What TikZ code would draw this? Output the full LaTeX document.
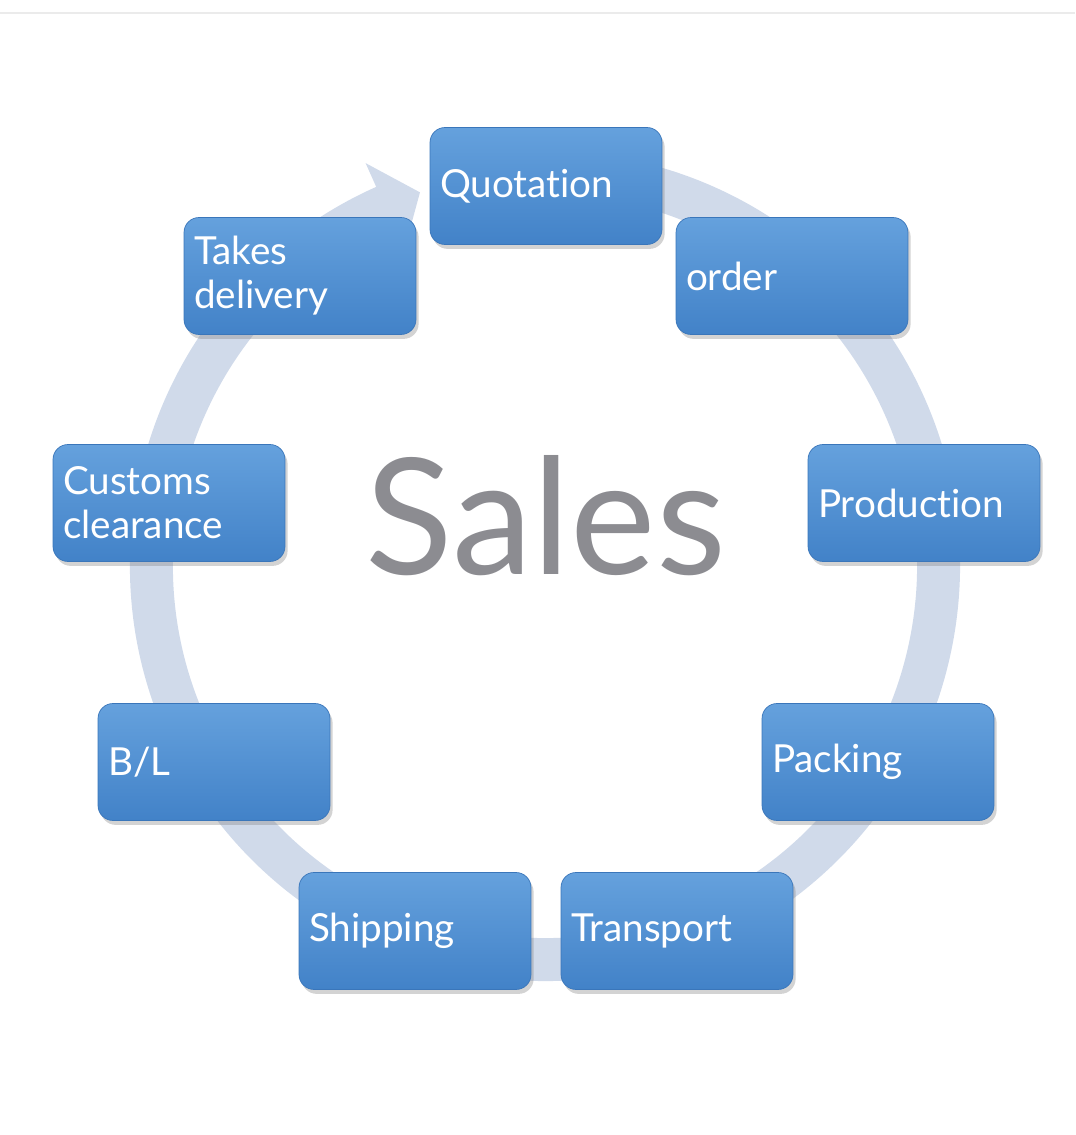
\documentclass[tikz,border=0pt]{standalone}
\usepackage{fontspec}
\setmainfont{Lato}[Ligatures=NoCommon]
\usetikzlibrary{shadows}

\definecolor{ringblue}{HTML}{D0DAEA}
\definecolor{boxtop}{HTML}{65A1DD}
\definecolor{boxbottom}{HTML}{4282C8}
\definecolor{boxline}{HTML}{3A76BA}
\definecolor{salesgray}{HTML}{8C8C91}

\begin{document}
\begin{tikzpicture}[x=0.02cm,y=0.02cm]
		\tikzset{stagestyle/.style={rectangle, draw=boxline, line width=0.4pt, top color=boxtop, bottom color=boxbottom, rounded corners=0.3cm, minimum width=4.64cm, minimum height=2.34cm, text width=4.24cm, inner xsep=0.2cm, align=left, text=white, font=\fontsize{22}{25}\selectfont, drop shadow={shadow xshift=1.5pt, shadow yshift=-2.5pt, opacity=0.35}}}
		
		\useasboundingbox (-545,-569) rectangle (530,566);
		\draw[black!8, line width=0.8pt] (-545,553) -- (530,553);
		
		% the ring, running clockwise back into Quotation
		\fill[ringblue] (80:415) arc[start angle=80, end angle=-246, radius=415] -- (-246:441) -- (-251.5:394) -- (-246:346) -- (-246:372) arc[start angle=-246, end angle=80, radius=372] -- cycle;
		
		\node[stagestyle] (rectquotation) at (1,380) {Quotation};
		\node[stagestyle] (rectorder) at (247,290) {order};
		\node[stagestyle] (rectproduction) at (379,63) {Production};
		\node[stagestyle] (rectpacking) at (333,-196) {Packing};
		\node[stagestyle] (recttransport) at (132,-365) {Transport};
		\node[stagestyle] (rectshipping) at (-130,-365) {Shipping};
		\node[stagestyle] (rectbl) at (-331,-196) {B/L};
		\node[stagestyle] (rectcustoms) at (-376,63) {Customs\\clearance};
		\node[stagestyle] (recttakes) at (-245,290) {Takes\\delivery};
		
		%\node at (0,0) {center};
		\node[text=salesgray, font=\fontsize{92}{92}\selectfont] (sales) at (1,50) {Sales};
		
\end{tikzpicture}
\end{document}
